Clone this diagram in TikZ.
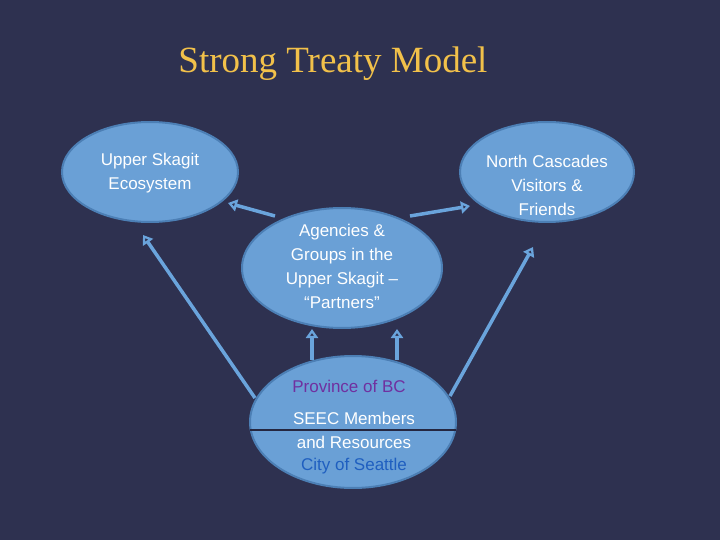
\documentclass[tikz,border=0pt]{standalone}
\usepackage{fontspec}
\setmainfont{Liberation Sans}
\newfontfamily\titlefont{Liberation Serif}
\usetikzlibrary{arrows.meta}
\definecolor{bg}{HTML}{2E3150}
\definecolor{ellfill}{HTML}{6AA0D6}
\definecolor{elledge}{HTML}{4C7FB5}
\definecolor{arr}{HTML}{6AA4DC}
\definecolor{gold}{HTML}{F2C14A}
\definecolor{purp}{HTML}{7030A0}
\definecolor{cblue}{HTML}{1F5FC0}
\begin{document}
\begin{tikzpicture}[x=1pt,y=-1pt,
  ell/.style={draw=elledge,line width=2pt,fill=ellfill},
  txt/.style={text=white,font=\fontsize{17}{24}\selectfont,align=center},
  conn/.style={draw=arr,line width=3.5pt,-{Triangle[open,length=9pt,width=12pt,line width=2.5pt]}}]
\fill[bg] (0,0) rectangle (720,540);
\useasboundingbox (0,0) rectangle (720,540);
\node (title) at (333,64) {\titlefont\color{gold}\fontsize{37}{40}\selectfont Strong Treaty Model};
\path[ell] (150,172) ellipse [x radius=88,y radius=50];
\path[ell] (547,172) ellipse [x radius=87,y radius=50];
\path[ell] (342,268) ellipse [x radius=100,y radius=60];
\path[ell] (353,422) ellipse [x radius=103,y radius=66];
\node[txt] (us) at (150,173) {Upper Skagit\\Ecosystem};
\node[txt] (nc) at (547,185) {North Cascades\\Visitors \&\\Friends};
\node[txt] (ag) at (342,266) {Agencies \&\\Groups in the\\Upper Skagit --\\``Partners''};
\node[font=\fontsize{17}{20}\selectfont,text=purp] (bc) at (349,386) {Province of BC};
\node[txt] (seec) at (354,430) {SEEC Members\\and Resources};
\node[font=\fontsize{17}{20}\selectfont,text=cblue] (sea) at (354,466) {City of Seattle};
\coordinate (l1) at (250,430); \coordinate (l2) at (456,430);
\draw[bg!80!black,line width=1.5pt] (l1) -- (l2);
\coordinate (a1) at (255,398); \coordinate (b1) at (143,235);
\coordinate (a2) at (450,396); \coordinate (b2) at (533,247);
\coordinate (a3) at (275,216); \coordinate (b3) at (228,203);
\coordinate (a4) at (410,216); \coordinate (b4) at (470,206);
\coordinate (a5) at (312,360); \coordinate (b5) at (312,329);
\coordinate (a6) at (397,360); \coordinate (b6) at (397,329);
\foreach \i in {1,...,6} \draw[conn] (a\i) -- (b\i);
\end{tikzpicture}
\end{document}
